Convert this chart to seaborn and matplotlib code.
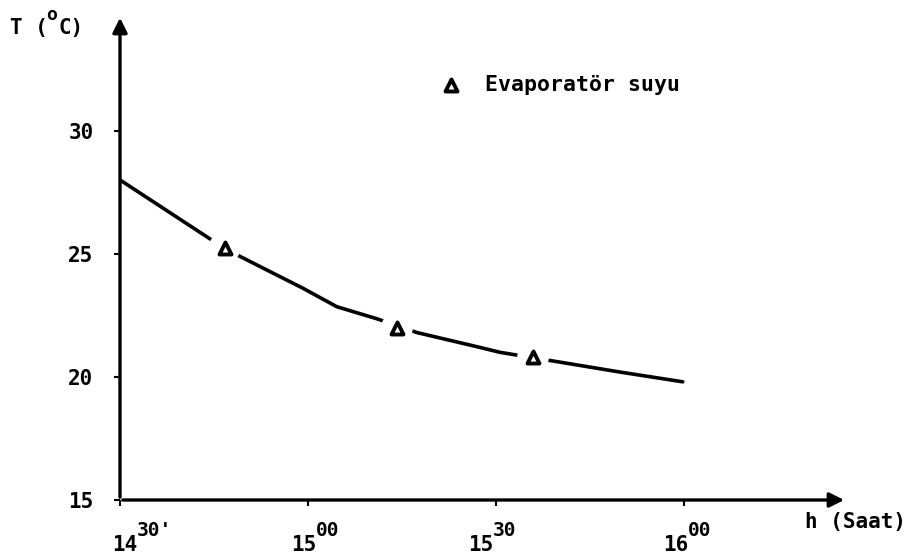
import matplotlib
matplotlib.use("Agg")
import matplotlib.pyplot as plt
import seaborn as sns
import pandas as pd

# minutes after 14:30 and water temperature (deg C)
curve_min = [0, 9.6, 14.4, 19.1, 29.2, 34.6, 41.0, 47.4, 57.4, 60.6, 70.2, 79.7, 89.8]
curve_T = [28.0, 26.4, 25.6, 24.9, 23.6, 22.85, 22.36, 21.8, 21.2, 21.0, 20.6, 20.2, 19.8]

marker_min = [16.7, 44.2, 65.9]
marker_T = [25.25, 22.0, 20.8]

x_ticks = [0, 30, 60, 90]
x_hour = ['14', '15', '15', '16']
x_minute = ["30'", '00', '30', '00']
y_ticks = [15, 20, 25, 30]

sns.set_theme(style="white")
plt.rcParams['font.family'] = ['DejaVu Sans Mono', 'DejaVu Sans']
plt.rcParams['font.weight'] = 'bold'
plt.rcParams['text.color'] = 'black'

curve = pd.DataFrame({'t': curve_min, 'T': curve_T})
marks = pd.DataFrame({'t': marker_min, 'T': marker_T})

fig = plt.figure(figsize=(9.11, 5.58), dpi=100)
ax = fig.add_axes([120 / 911, 1 - 500 / 558, 727 / 911, 485 / 558])

sns.lineplot(data=curve, x='t', y='T', ax=ax, color='black', lw=2.6, sort=False, zorder=2)
# white masks make the gaps in the line around each marker
sns.scatterplot(data=marks, x='t', y='T', ax=ax, color='white', s=520, marker='o',
                edgecolor='none', zorder=3)
sns.scatterplot(data=marks, x='t', y='T', ax=ax, marker='^', s=75, facecolor='white',
                edgecolor='black', linewidth=2.8, zorder=4, label='Evaporatör suyu')

ax.set_xlim(0, 116)
ax.set_ylim(15, 34.7)
ax.set_xticks(x_ticks)
ax.set_xticklabels([])
ax.set_yticks(y_ticks)
ax.set_xlabel('')
ax.set_ylabel('')
ax.tick_params(axis='both', labelsize=15, colors='black', length=4, width=1.5,
               direction='out', left=True, bottom=True)
ax.tick_params(axis='y', pad=15)
for lab in ax.get_yticklabels():
    lab.set_fontweight('bold')

# time labels with full-size raised minutes, as in the hand-lettered original
for t, hh, mm, dx in zip(x_ticks, x_hour, x_minute, [17, 8, -3, 4]):
    ax.annotate(hh, xy=(t, 0), xycoords=('data', 'axes fraction'),
                xytext=(dx * 0.72, -45 * 0.72), textcoords='offset points',
                ha='right', va='center', fontsize=15, fontweight='bold')
    ax.annotate(mm, xy=(t, 0), xycoords=('data', 'axes fraction'),
                xytext=(dx * 0.72, -30 * 0.72), textcoords='offset points',
                ha='left', va='center', fontsize=14, fontweight='bold')

for side in ['top', 'right', 'left', 'bottom']:
    ax.spines[side].set_visible(False)

arrow = dict(arrowstyle='-|>', lw=2.4, color='black', mutation_scale=22)
ax.annotate('', xy=(1, 0), xytext=(0, 0), xycoords='axes fraction',
            arrowprops=arrow, annotation_clip=False)
ax.annotate('', xy=(0, 1), xytext=(0, 0), xycoords='axes fraction',
            arrowprops=arrow, annotation_clip=False)

fig.text(10 / 911, 1 - 28 / 558, 'T (', fontsize=15, va='center', ha='left')
fig.text(46 / 911, 1 - 15 / 558, 'o', fontsize=13, va='center', ha='left')
fig.text(59 / 911, 1 - 28 / 558, 'C)', fontsize=15, va='center', ha='left')
fig.text(805 / 911, 1 - 522 / 558, 'h (Saat)', fontsize=15, va='center', ha='left')

ax.legend(loc='center left', bbox_to_anchor=(432 / 911, 1 - 85 / 558),
          bbox_transform=fig.transFigure, frameon=False,
          prop={'size': 15.5, 'weight': 'bold', 'family': 'DejaVu Sans Mono'},
          handlelength=0.8, handletextpad=1.15, borderpad=0)

fig.savefig('out.png', dpi=100)
